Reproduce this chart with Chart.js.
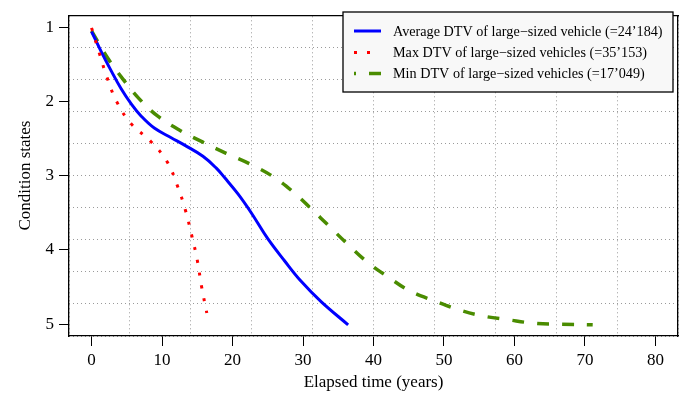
<!DOCTYPE html>
<html>
<head>
<meta charset="utf-8">
<script src="https://cdn.jsdelivr.net/npm/chart.js@4"></script>
<style>
  html, body { margin: 0; padding: 0; background: #fff; }
  canvas { display: block; }
</style>
</head>
<body>
<canvas id="chart" width="686" height="393"></canvas>
<script>
// values
const avgYears = [0, 1.37, 2.79, 4.2, 5.6, 7.05, 8.9, 11.3, 13.2, 15.8, 17.7, 18.9, 20.8, 22.65, 25.0, 27.4, 29.7, 32.6, 36.4];
const avgState = [1.06, 1.33, 1.59, 1.83, 2.03, 2.20, 2.36, 2.49, 2.59, 2.74, 2.90, 3.03, 3.25, 3.50, 3.85, 4.15, 4.42, 4.70, 5.01];

const maxYears = [0, 1.1, 2.2, 3.6, 5.6, 8.4, 10.7, 12.15, 13.3, 14.2, 15.0, 15.6, 16.35];
const maxState = [1.01, 1.35, 1.68, 2.01, 2.30, 2.54, 2.81, 3.13, 3.46, 3.80, 4.14, 4.49, 4.85];

const minYears = [0, 2.1, 4.45, 6.8, 9.4, 12.5, 15.8, 19.1, 22.4, 25.7, 28.6, 31.2, 33.8, 36.4, 39.2, 42.0, 45.1, 48.7, 52.2, 55.5, 59.0, 63.0, 66.6, 71.1];
const minState = [1.05, 1.39, 1.70, 1.97, 2.20, 2.39, 2.55, 2.70, 2.84, 3.01, 3.22, 3.45, 3.69, 3.93, 4.17, 4.36, 4.55, 4.69, 4.81, 4.89, 4.94, 4.99, 5.0, 5.01];

const xTicks = [0, 10, 20, 30, 40, 50, 60, 70, 80];
const yTicks = [1, 2, 3, 4, 5];

const labels = [
  'Average DTV of large\u2212sized vehicle (=24\u2019184)',
  'Max DTV of large\u2212sized vehicles (=35\u2019153)',
  'Min DTV of large\u2212sized vehicles (=17\u2019049)'
];

const toPoints = (xs, ys) => xs.map((x, i) => ({ x: x, y: ys[i] }));
const serif = "'Liberation Serif', 'DejaVu Serif', serif";

// legend box drawn inside the plot, like the R legend()
const boxLegend = {
  id: 'boxLegend',
  afterDraw(chart) {
    const ctx = chart.ctx;
    const x0 = 343, y0 = 12, w = 330, h = 80;
    ctx.save();
    ctx.fillStyle = '#f8f8f8';
    ctx.fillRect(x0, y0, w, h);
    ctx.strokeStyle = '#000';
    ctx.lineWidth = 1.3;
    ctx.strokeRect(x0, y0, w, h);
    const rows = [31, 52.5, 73.5];
    chart.data.datasets.forEach((ds, i) => {
      const y = rows[i];
      ctx.beginPath();
      ctx.strokeStyle = ds.borderColor;
      ctx.lineWidth = ds.borderWidth;
      ctx.setLineDash(ds.borderDash || []);
      ctx.lineDashOffset = i === 2 ? 10 : 0;
      ctx.moveTo(354, y);
      ctx.lineTo(i === 1 ? 372 : 381, y);
      ctx.stroke();
      ctx.setLineDash([]);
      ctx.fillStyle = '#000';
      ctx.font = '14.2px ' + serif;
      ctx.textBaseline = 'middle';
      ctx.fillText(ds.label, 393, y + 1);
    });
    ctx.restore();
  }
};

new Chart(document.getElementById('chart'), {
  type: 'line',
  data: {
    datasets: [
      {
        label: labels[0],
        data: toPoints(avgYears, avgState),
        borderColor: '#0000ff',
        borderWidth: 3,
        pointRadius: 0,
        tension: 0.4,
        order: 1
      },
      {
        label: labels[1],
        data: toPoints(maxYears, maxState),
        borderColor: '#ff0000',
        borderWidth: 3,
        borderDash: [3, 10],
        pointRadius: 0,
        tension: 0.4,
        order: 0
      },
      {
        label: labels[2],
        data: toPoints(minYears, minState),
        borderColor: '#4a8c00',
        borderWidth: 3.5,
        borderDash: [12, 13],
        pointRadius: 0,
        tension: 0.4,
        order: 2
      }
    ]
  },
  options: {
    responsive: false,
    animation: false,
    layout: { padding: { top: 7, right: 8, left: 0, bottom: 0 } },
    plugins: { legend: { display: false }, tooltip: { enabled: false } },
    scales: {
      x: {
        type: 'linear',
        position: 'bottom',
        min: -3.2,
        max: 83.2,
        afterBuildTicks: s => { s.ticks = xTicks.map(v => ({ value: v })); },
        afterFit: s => { s.height = 57; },
        ticks: { color: '#000', font: { family: serif, size: 17 }, padding: 4, maxRotation: 0 },
        grid: { drawOnChartArea: false, drawTicks: true, tickLength: 10, color: '#000', lineWidth: 1 },
        border: { display: true, color: '#000', width: 1.3 },
        title: { display: true, text: 'Elapsed time (years)', color: '#000', font: { family: serif, size: 17 }, padding: { top: 0, bottom: 0 } }
      },
      y: {
        type: 'linear',
        position: 'left',
        reverse: true,
        min: 0.84,
        max: 5.16,
        afterBuildTicks: s => { s.ticks = yTicks.map(v => ({ value: v })); },
        afterFit: s => { s.width = 69; },
        ticks: { color: '#000', font: { family: serif, size: 17 }, padding: 5 },
        grid: { drawOnChartArea: false, drawTicks: true, tickLength: 10, color: '#000', lineWidth: 1 },
        border: { display: true, color: '#000', width: 1.3 },
        title: { display: true, text: 'Condition states', color: '#000', font: { family: serif, size: 17 }, padding: { top: 15, bottom: 0 } }
      },
      // dotted grid: ten equal cells over the plot region
      gx: {
        type: 'linear',
        position: 'top',
        min: 0,
        max: 10,
        ticks: { display: false, stepSize: 1 },
        afterFit: s => { s.height = 0; },
        grid: { drawTicks: false, color: '#9a9a9a', lineWidth: 1 },
        border: { display: true, color: '#000', width: 1.3, dash: [1, 3] }
      },
      gy: {
        type: 'linear',
        position: 'right',
        min: 0,
        max: 10,
        ticks: { display: false, stepSize: 1 },
        afterFit: s => { s.width = 0; },
        grid: { drawTicks: false, color: '#9a9a9a', lineWidth: 1 },
        border: { display: true, color: '#000', width: 1.3, dash: [1, 3] }
      }
    }
  },
  plugins: [boxLegend]
});
</script>
</body>
</html>
